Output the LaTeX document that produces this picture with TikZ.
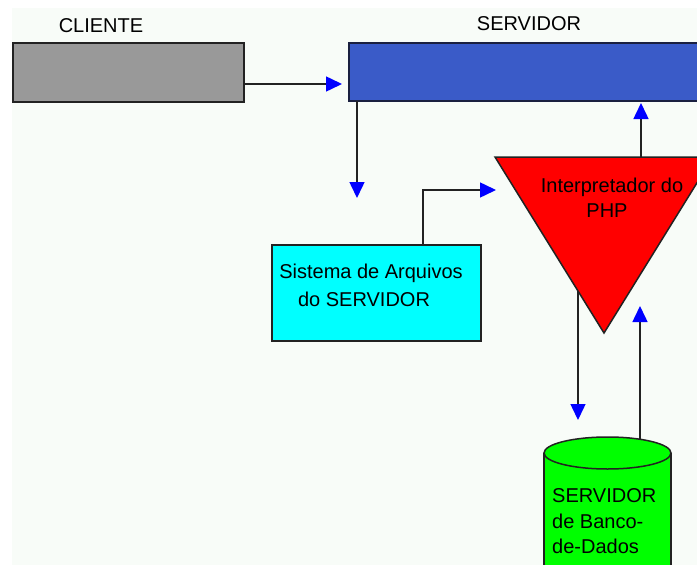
\documentclass[tikz,border=0pt]{standalone}
\usepackage{fontspec}
\setmainfont{Liberation Sans}
\usetikzlibrary{arrows.meta}
\definecolor{bg}{HTML}{F8FCF8}
\definecolor{cgray}{HTML}{999999}
\definecolor{sblue}{HTML}{3A5BC8}
\definecolor{sborder}{HTML}{1A2040}
\definecolor{ablue}{HTML}{0000FF}
\definecolor{lgreen}{HTML}{00FF00}
\definecolor{lcyan}{HTML}{00FFFF}
\definecolor{lred}{HTML}{FF0000}
\definecolor{lnc}{HTML}{222222}
\begin{document}
\begin{tikzpicture}[x=1pt,y=-1pt,
  conn/.style={draw=lnc, line width=1.5pt, -{Triangle[length=16pt,width=15pt,color=ablue]}},
  lbl/.style={inner sep=0pt, anchor=base, font=\fontsize{20}{24}\selectfont},
  box/.style={draw=lnc, line width=1.5pt, anchor=north west, inner sep=0pt},
  shp/.style={draw=lnc, line width=1.5pt}]
\useasboundingbox (0,0) rectangle (697,565);
\clip (0,0) rectangle (697,565);
\fill[bg] (12,8) rectangle (697,565);
% boxes
\node[box, fill=cgray, minimum width=231pt, minimum height=59pt] (cli) at (12,42) {};
\node[box, fill=sblue, draw=sborder, line width=2pt, minimum width=360pt, minimum height=58pt] (srv) at (348,42) {};
\node[lbl] (tcli) at (101,32) {CLIENTE};
\node[lbl] (tsrv) at (529,30) {SERVIDOR};
\node[box, fill=lcyan, minimum width=209pt, minimum height=96pt] (fs) at (271,244) {};
\node[lbl] (fs1) at (371,278) {Sistema de Arquivos};
\node[lbl] (fs2) at (364,306) {do SERVIDOR};
% triangle
\coordinate (tl) at (495,157);
\coordinate (tr) at (713,157);
\coordinate (ap) at (604,333);
\filldraw[shp, fill=lred] (tl) -- (tr) -- (ap) -- cycle;
\node[lbl] (php1) at (612,192) {Interpretador do};
\node[lbl] (php2) at (607,217) {PHP};
% cylinder
\coordinate (dbc) at (607.5,453);
\filldraw[shp, fill=lgreen] (544,453) -- (544,580) -- (671,580) -- (671,453);
\filldraw[shp, fill=lgreen] (dbc) ellipse [x radius=63.5, y radius=16];
\node[lbl, anchor=base west] (db1) at (552,502) {SERVIDOR};
\node[lbl, anchor=base west] (db2) at (552,528) {de Banco-};
\node[lbl, anchor=base west] (db3) at (552,553) {de-Dados};
% connectors
\coordinate (a1s) at (243,84);
\coordinate (a1e) at (342,84);
\coordinate (a2s) at (357,101);
\coordinate (a2e) at (357,198);
\coordinate (a3s) at (423,244);
\coordinate (a3e) at (496,190);
\coordinate (a4s) at (641,157);
\coordinate (a4e) at (641,103);
\coordinate (a5s) at (578,291);
\coordinate (a5e) at (578,420);
\coordinate (a6s) at (640,439);
\coordinate (a6e) at (640,306);
\draw[conn] (a1s) -- (a1e);
\draw[conn] (a2s) -- (a2e);
\draw[conn] (a3s) |- (a3e);
\draw[conn] (a4s) -- (a4e);
\draw[conn] (a5s) -- (a5e);
\draw[conn] (a6s) -- (a6e);
\end{tikzpicture}
\end{document}
